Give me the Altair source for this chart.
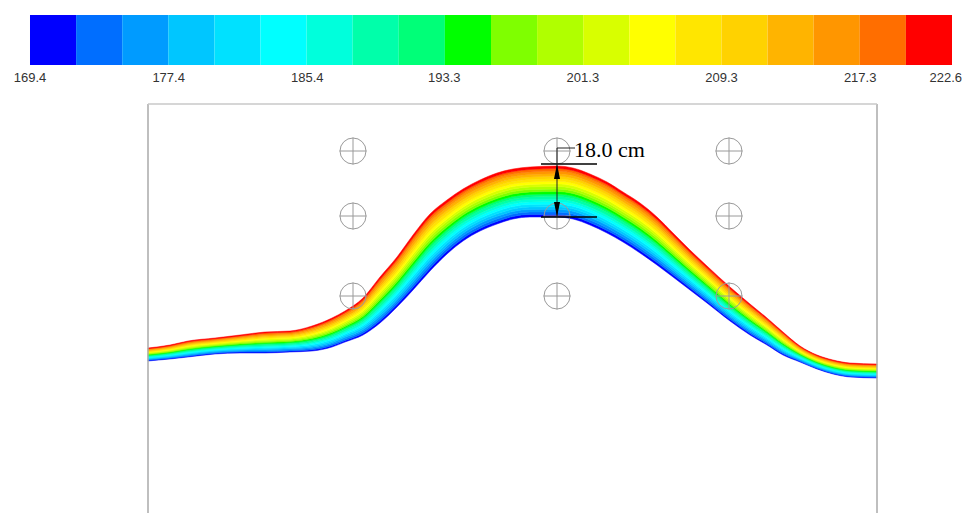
import altair as alt
import pandas as pd

# ---------------- colour bar (temperature levels) ----------------
levels = [169.40, 172.06, 174.72, 177.38, 180.04, 182.70, 185.36, 188.02,
          190.68, 193.34, 196.00, 198.66, 201.32, 203.98, 206.64, 209.30,
          211.96, 214.62, 217.28, 219.94, 222.60]
colors = ["#0000FF", "#006EFF", "#009BFF", "#00C6FF", "#00E1FF", "#00FFFF",
          "#00FFDC", "#00FFAA", "#00FF78", "#00FF00", "#7FFF00", "#B0FF00",
          "#D8FF00", "#FFFF00", "#FFE600", "#FFD200", "#FFB400", "#FF9600",
          "#FF6E00", "#FF0000"]
tick_values = [169.4, 177.4, 185.4, 193.3, 201.3, 209.3, 217.3]
tick_labels = ["169.4", "177.4", "185.4", "193.3", "201.3", "209.3", "217.3"]
end_value = [222.6]
end_label = ["222.6"]

# ---------------- band boundaries (figure coordinates) ----------------
curve_x = [148, 170, 188, 215, 240, 265, 290, 312, 332, 345, 363, 380, 397,
           413, 430, 447, 463, 480, 497, 513, 530, 557, 573, 590, 607, 623,
           640, 657, 673, 690, 707, 730, 750, 767, 783, 800, 817, 833, 850, 877]
top_y = [348, 345, 341, 338, 335, 332, 331, 326, 318, 311, 298, 277, 257,
         235, 214, 200, 189, 180, 173, 169, 167, 166, 168, 174, 182, 192,
         203, 217, 233, 250, 266, 287, 304, 318, 332, 346, 355, 360, 363, 364]
bottom_y = [361, 359, 357, 354, 353, 353, 352, 351, 347, 342, 335, 323, 307,
            290, 271, 254, 241, 231, 224, 219, 217, 217, 219, 225, 233, 242,
            253, 265, 277, 290, 303, 321, 335, 345, 355, 362, 369, 374, 377, 378]

# ---------------- sensor crosshairs ----------------
cross_x = [353, 557, 729]
cross_y = [151, 216, 296]

# ---------------- frame ----------------
frame_left = [148]
frame_right = [877]
frame_top = [104]
frame_bottom = [513]

# ---------------- dimension annotation ----------------
dim_x = [557]
dim_top = [164]
dim_bottom = [217]
dim_tick_x1 = [541]
dim_tick_x2 = [597]
leader_y = [148]
leader_x2 = [575]
label_text = ["18.0 cm"]
label_x = [574]
label_y = [157]

# ================= build tables =================
n = len(colors)
rows = []
for k in range(n):
    f0 = (levels[k] - levels[0]) / (levels[-1] - levels[0])
    f1 = (levels[k + 1] - levels[0]) / (levels[-1] - levels[0])
    for x, t, b in zip(curve_x, top_y, bottom_y):
        rows.append({"x": x, "lo": b + (t - b) * f0, "hi": b + (t - b) * f1, "stripe": k})
stripes = pd.DataFrame(rows)

bar = pd.DataFrame({"v0": levels[:-1], "v1": levels[1:], "stripe": list(range(n))})
ticks = pd.DataFrame({"v": tick_values, "t": tick_labels})
ticks_end = pd.DataFrame({"v": end_value, "t": end_label})
crosses = pd.DataFrame([{"x": cx, "y": cy} for cy in cross_y for cx in cross_x])

xs = alt.Scale(domain=[8, 963], nice=False, zero=False)
ys = alt.Scale(domain=[8, 513], nice=False, zero=False, reverse=True)
bs = alt.Scale(domain=[168.1306, 223.2347], nice=False, zero=False)
cs = alt.Scale(domain=list(range(n)), range=colors)

band = alt.Chart(stripes).mark_area(orient="vertical", interpolate="monotone",
                                    strokeWidth=0.5).encode(
    x=alt.X("x:Q", scale=xs, axis=None),
    y=alt.Y("lo:Q", scale=ys, axis=None, stack=None),
    y2="hi:Q",
    color=alt.Color("stripe:O", scale=cs, legend=None),
    stroke=alt.Stroke("stripe:O", scale=cs, legend=None),
)

fl = pd.DataFrame({"x": frame_left + frame_right, "y": frame_top * 2, "y2": frame_bottom * 2})
frame_v = alt.Chart(fl).mark_rule(color="#aaaaaa", strokeWidth=1.5).encode(
    x=alt.X("x:Q", scale=xs, axis=None),
    y=alt.Y("y:Q", scale=ys, axis=None), y2="y2:Q")
ft = pd.DataFrame({"x": frame_left, "x2": frame_right, "y": frame_top})
frame_h = alt.Chart(ft).mark_rule(color="#c8c8c8", strokeWidth=1.5).encode(
    x=alt.X("x:Q", scale=xs, axis=None), x2="x2:Q",
    y=alt.Y("y:Q", scale=ys, axis=None))

circ = alt.Chart(crosses).mark_point(shape="circle", size=676, filled=False,
                                     color="#9a9a9a", strokeWidth=1, opacity=1).encode(
    x=alt.X("x:Q", scale=xs, axis=None), y=alt.Y("y:Q", scale=ys, axis=None))
plus = alt.Chart(crosses).mark_point(shape="M-1,0L1,0M0,-1L0,1", size=729, filled=False,
                                     color="#9a9a9a", strokeWidth=1, opacity=1).encode(
    x=alt.X("x:Q", scale=xs, axis=None), y=alt.Y("y:Q", scale=ys, axis=None))

dt = pd.DataFrame({"x": dim_tick_x1 * 2, "x2": dim_tick_x2 * 2, "y": dim_top + dim_bottom})
dim_ticks = alt.Chart(dt).mark_rule(color="black", strokeWidth=1.5).encode(
    x=alt.X("x:Q", scale=xs, axis=None), x2="x2:Q",
    y=alt.Y("y:Q", scale=ys, axis=None))
dv = pd.DataFrame({"x": dim_x, "y": leader_y, "y2": dim_bottom})
dim_line = alt.Chart(dv).mark_rule(color="#222222", strokeWidth=1).encode(
    x=alt.X("x:Q", scale=xs, axis=None),
    y=alt.Y("y:Q", scale=ys, axis=None), y2="y2:Q")
ld = pd.DataFrame({"x": dim_x, "x2": leader_x2, "y": leader_y})
leader = alt.Chart(ld).mark_rule(color="#222222", strokeWidth=1).encode(
    x=alt.X("x:Q", scale=xs, axis=None), x2="x2:Q",
    y=alt.Y("y:Q", scale=ys, axis=None))
au = pd.DataFrame({"x": dim_x, "y": dim_top})
arrow_up = alt.Chart(au).mark_point(shape="M0,0L0.4,2L-0.4,2Z", size=225, filled=True,
                                    color="black", opacity=1).encode(
    x=alt.X("x:Q", scale=xs, axis=None), y=alt.Y("y:Q", scale=ys, axis=None))
ad = pd.DataFrame({"x": dim_x, "y": dim_bottom})
arrow_dn = alt.Chart(ad).mark_point(shape="M0,0L0.4,-2L-0.4,-2Z", size=225, filled=True,
                                    color="black", opacity=1).encode(
    x=alt.X("x:Q", scale=xs, axis=None), y=alt.Y("y:Q", scale=ys, axis=None))
lt = pd.DataFrame({"x": label_x, "y": label_y, "t": label_text})
label = alt.Chart(lt).mark_text(font="Liberation Serif", fontSize=22, align="left",
                                baseline="alphabetic", color="black").encode(
    x=alt.X("x:Q", scale=xs, axis=None), y=alt.Y("y:Q", scale=ys, axis=None), text="t:N")

cbar = alt.Chart(bar).mark_rect().encode(
    x=alt.X("v0:Q", scale=bs, axis=None), x2="v1:Q",
    y=alt.value(7), y2=alt.value(57),
    color=alt.Color("stripe:O", scale=cs, legend=None))
cticks = alt.Chart(ticks).mark_text(font="Liberation Sans", fontSize=13, color="#333333",
                                    baseline="middle").encode(
    x=alt.X("v:Q", scale=bs, axis=None), y=alt.value(70), text="t:N")
cend = alt.Chart(ticks_end).mark_text(font="Liberation Sans", fontSize=13, color="#333333",
                                      baseline="middle", align="right", dx=10).encode(
    x=alt.X("v:Q", scale=bs, axis=None), y=alt.value(70), text="t:N")

chart = alt.layer(
    band, frame_v, frame_h, circ, plus, dim_ticks, dim_line, leader,
    arrow_up, arrow_dn, label, cbar, cticks, cend
).resolve_scale(x="independent").properties(
    width=955, height=505, padding=0,
    autosize=alt.AutoSizeParams(type="none"),
).configure_view(strokeWidth=0)

chart.save("out.html", embed_options={"renderer": "svg", "actions": False})
